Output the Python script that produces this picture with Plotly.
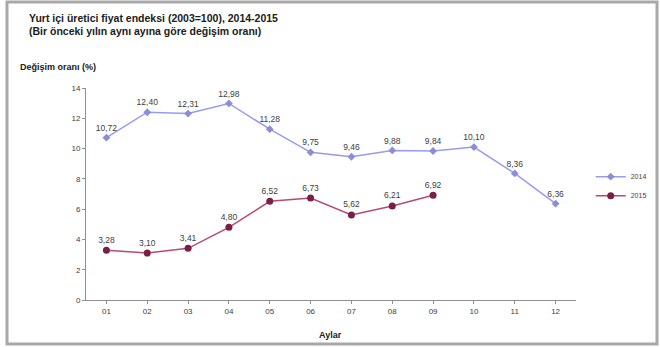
import plotly.graph_objects as go

months = ["01", "02", "03", "04", "05", "06", "07", "08", "09", "10", "11", "12"]
y2014 = [10.72, 12.40, 12.31, 12.98, 11.28, 9.75, 9.46, 9.88, 9.84, 10.10, 8.36, 6.36]
y2015 = [3.28, 3.10, 3.41, 4.80, 6.52, 6.73, 5.62, 6.21, 6.92]
months2015 = months[:len(y2015)]
yticks = [0, 2, 4, 6, 8, 10, 12, 14]

def fmt(v):
    return f"{v:.2f}".replace(".", ",")

fig = go.Figure()
fig.add_trace(go.Scatter(
    x=months, y=y2014, name="2014", mode="lines+markers+text",
    line=dict(color="#9a9af0", width=1.5),
    marker=dict(color="#8c8cd8", size=6, symbol="diamond"),
    text=[fmt(v) for v in y2014], textposition="top center",
    textfont=dict(size=8.5, color="#404040", family="Arial"),
    cliponaxis=False,
))
fig.add_trace(go.Scatter(
    x=months2015, y=y2015, name="2015", mode="lines+markers+text",
    line=dict(color="#b84a72", width=1.5),
    marker=dict(color="#7a1f45", size=7, symbol="circle"),
    text=[fmt(v) for v in y2015], textposition="top center",
    textfont=dict(size=8.5, color="#404040", family="Arial"),
    cliponaxis=False,
))

fig.update_layout(
    width=660, height=347,
    margin=dict(l=86, r=84, t=88, b=47, autoexpand=False),
    paper_bgcolor="white", plot_bgcolor="white",
    font=dict(family="Arial", size=8, color="#404040"),
    showlegend=True,
    legend=dict(x=1.03, y=0.65, xanchor="left", yanchor="top",
                font=dict(size=7, color="#404040"), bgcolor="rgba(0,0,0,0)",
                tracegroupgap=4, itemwidth=30),
    xaxis=dict(type="category", categoryorder="array", categoryarray=months,
               showgrid=False, showline=True, linecolor="#909090", linewidth=1,
               ticks="outside", ticklen=3, tickcolor="#909090",
               tickfont=dict(size=8, color="#404040"),
               range=[-0.5, 11.5], zeroline=False),
    yaxis=dict(range=[0, 14], tickvals=yticks, showgrid=False, showline=True,
               linecolor="#909090", linewidth=1, ticks="outside", ticklen=3,
               tickcolor="#909090", tickfont=dict(size=8, color="#404040"),
               zeroline=False),
    annotations=[
        dict(text="<b>Yurt içi üretici fiyat endeksi (2003=100), 2014-2015</b>",
             xref="paper", yref="paper", x=(27 - 86) / 490, y=(300 - 18) / 212,
             xanchor="left", yanchor="middle", showarrow=False,
             font=dict(size=10.5, color="#202020", family="Arial")),
        dict(text="<b>(Bir önceki yılın aynı ayına göre değişim oranı)</b>",
             xref="paper", yref="paper", x=(27 - 86) / 490, y=(300 - 31) / 212,
             xanchor="left", yanchor="middle", showarrow=False,
             font=dict(size=10.5, color="#202020", family="Arial")),
        dict(text="<b>Değişim oranı (%)</b>",
             xref="paper", yref="paper", x=(18 - 86) / 490, y=(300 - 67) / 212,
             xanchor="left", yanchor="middle", showarrow=False,
             font=dict(size=9, color="#202020", family="Arial")),
        dict(text="<b>Aylar</b>",
             xref="paper", yref="paper", x=(330 - 86) / 490, y=(300 - 335) / 212,
             xanchor="center", yanchor="middle", showarrow=False,
             font=dict(size=9, color="#202020", family="Arial")),
    ],
    shapes=[
        dict(type="rect", xref="paper", yref="paper",
             x0=(7 - 86) / 490, x1=(657 - 86) / 490,
             y0=(300 - 344) / 212, y1=(300 - 2) / 212,
             line=dict(color="#a8a8a8", width=3), fillcolor="rgba(0,0,0,0)"),
    ],
)

fig.write_html("out.html")
